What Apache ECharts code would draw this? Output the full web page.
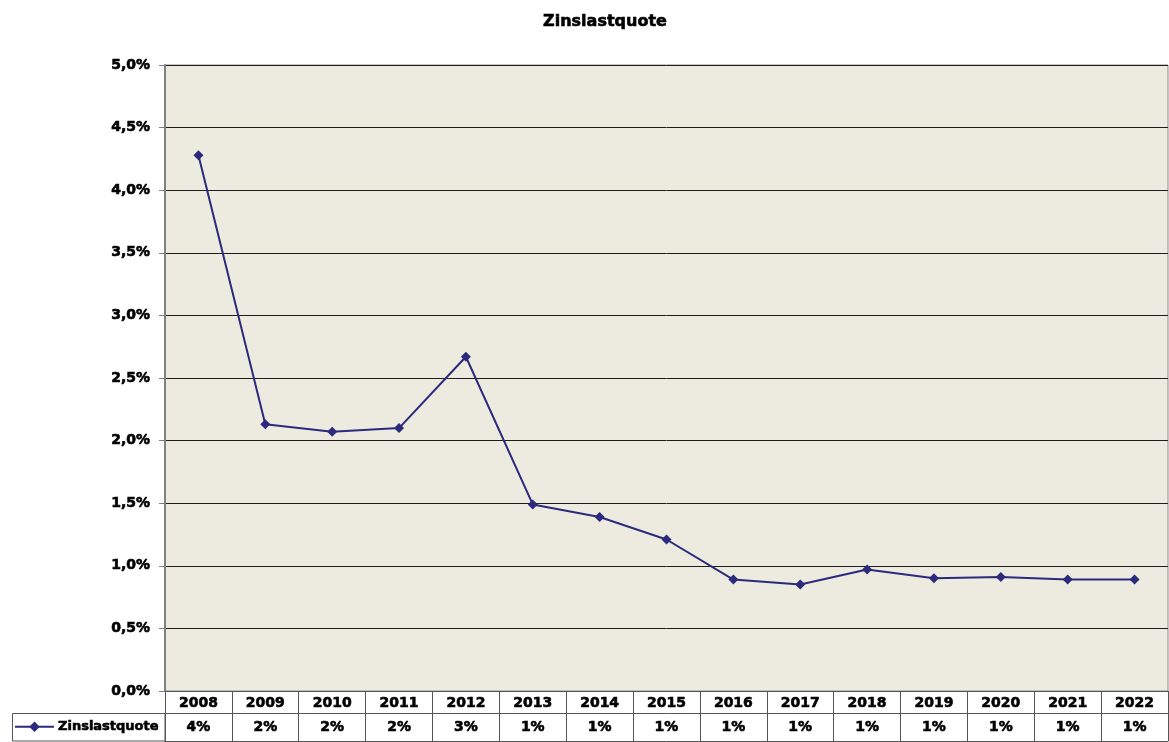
<!DOCTYPE html>
<html>
<head>
<meta charset="utf-8">
<title>Zinslastquote</title>
<script src="https://cdn.jsdelivr.net/npm/echarts@6/dist/echarts.min.js"></script>
<style>
  html, body { margin: 0; padding: 0; background: #fff; }
  #chart { width: 1169px; height: 742px; }
</style>
</head>
<body>
<div id="chart"></div>
<script>
// Jahre (Kategorien)
const years = ['2008', '2009', '2010', '2011', '2012', '2013', '2014', '2015',
  '2016', '2017', '2018', '2019', '2020', '2021', '2022'];
// Zinslastquote in %
const rates = [4.28, 2.13, 2.07, 2.10, 2.67, 1.49, 1.39, 1.21,
  0.89, 0.85, 0.97, 0.90, 0.91, 0.89, 0.89];
const seriesName = 'Zinslastquote';

const font = 'DejaVu Sans';
// etwas fetter, wie im Original
const boldText = { fontFamily: font, fontWeight: 'bold', color: '#000', textBorderColor: '#000', textBorderWidth: 0.6 };

const chart = echarts.init(document.getElementById('chart'));

let option = {
  backgroundColor: '#ffffff',
  animation: false,
  title: {
    text: seriesName,
    left: 600,
    top: 9,
    textAlign: 'center',
    textStyle: Object.assign({}, boldText, { fontSize: 16 })
  },
  legend: {
    data: [seriesName],
    left: 14,
    top: 720,
    padding: 0,
    itemWidth: 39,
    itemHeight: 13,
    itemGap: 4,
    textStyle: Object.assign({}, boldText, { fontSize: 13, padding: [0, 0, 0, -1] })
  },
  grid: {
    left: 165,
    right: 1,
    top: 65,
    bottom: 51,
    show: true,
    backgroundColor: '#EDEBE0',
    borderColor: '#8a8a8a',
    borderWidth: 1
  },
  xAxis: [
    {
      // Jahreszeile der Datentabelle
      type: 'category',
      data: years,
      position: 'bottom',
      boundaryGap: true,
      axisLine: { show: true, lineStyle: { color: '#555', width: 1 } },
      axisTick: { show: true, length: 50, lineStyle: { color: '#555', width: 1 } },
      axisLabel: Object.assign({ margin: 5, fontSize: 14 }, boldText),
      splitLine: { show: false }
    },
    {
      // Wertezeile der Datentabelle
      type: 'category',
      data: years,
      position: 'bottom',
      offset: 22,
      boundaryGap: true,
      axisLine: { show: true, lineStyle: { color: '#555', width: 1 } },
      axisTick: { show: false },
      axisLabel: Object.assign({
        margin: 7,
        fontSize: 14,
        formatter: (v, i) => Math.round(rates[i]) + '%'
      }, boldText)
    },
    {
      // untere Tabellenkante
      type: 'category',
      data: years,
      position: 'bottom',
      offset: 50,
      axisLine: { show: true, lineStyle: { color: '#555', width: 1 } },
      axisTick: { show: false },
      axisLabel: { show: false }
    }
  ],
  yAxis: {
    type: 'value',
    min: 0,
    max: 5,
    interval: 0.5,
    axisLine: { show: true, lineStyle: { color: '#808080', width: 2 } },
    axisTick: { show: true, length: 6, lineStyle: { color: '#808080' } },
    axisLabel: Object.assign({
      margin: 15,
      fontSize: 14,
      formatter: v => v.toFixed(1).replace('.', ',') + '%'
    }, boldText),
    splitLine: { show: true, lineStyle: { color: '#1e1e1e', width: 1 } }
  },
  graphic: [
    {
      // Rahmen der Legendenzelle
      type: 'rect',
      shape: { x: 12.5, y: 713.5, width: 152.5, height: 27.5 },
      style: { fill: 'none', stroke: '#555', lineWidth: 1 },
      silent: true
    }
  ],
  series: [
    {
      name: seriesName,
      type: 'line',
      data: rates,
      symbol: 'diamond',
      symbolSize: 10,
      lineStyle: { color: '#2B2A7C', width: 2 },
      itemStyle: { color: '#2B2A7C' }
    }
  ]
};

chart.setOption(option);
</script>
</body>
</html>
